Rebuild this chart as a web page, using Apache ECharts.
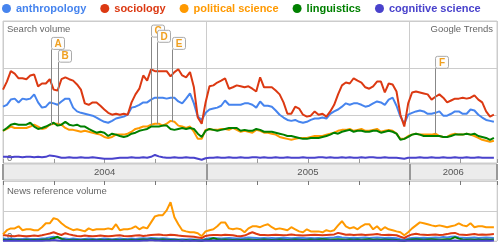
<!DOCTYPE html>
<html><head><meta charset="utf-8">
<script src="https://cdn.jsdelivr.net/npm/echarts@6/dist/echarts.min.js"></script>
<style>html,body{margin:0;padding:0;background:#fff}#c{width:500px;height:249px}</style>
</head><body><div id="c"></div>
<script>
// ---- categories / labels ----
const seriesNames = ['anthropology','sociology','political science','linguistics','cognitive science'];
const colors = ['#4684ee','#dc3912','#ff9900','#008000','#4942cc'];
const yearLabels = ['2004','2005','2006'];
const weekCount = 127; // weekly points from Jan 2004

// ---- search volume (1.0 = gridline) ----
const anthropology = [
1.19,1.23,1.34,1.36,1.28,1.36,1.34,1.36,1.45,1.28,
1.17,1.19,1.28,1.26,1.23,1.30,1.36,1.36,1.17,1.09,
1.06,1.04,1.02,1.00,0.96,0.91,0.87,0.85,0.89,0.94,
0.96,0.98,1.02,1.17,1.19,1.23,1.28,1.28,1.34,1.38,
1.38,1.38,1.36,1.38,1.38,1.30,1.26,1.36,1.47,1.26,
0.98,0.91,1.06,1.13,1.15,1.17,1.21,1.32,1.23,1.23,
1.23,1.23,1.26,1.26,1.23,1.17,1.30,1.21,1.21,1.19,
1.11,1.02,0.96,0.91,0.89,0.91,0.87,0.85,0.87,0.91,
0.94,0.94,0.96,0.94,1.04,1.09,1.13,1.19,1.26,1.23,
1.26,1.26,1.23,1.19,1.21,1.26,1.30,1.28,1.23,1.34,
1.38,1.21,0.98,0.83,1.02,1.06,1.09,1.11,1.09,1.04,
1.04,1.06,1.09,1.00,1.00,1.04,1.09,1.09,1.04,1.04,
1.13,1.11,1.02,0.96,0.91,0.89,0.87];
const sociology = [
1.55,1.72,1.94,1.89,1.79,1.79,1.77,1.85,1.87,1.62,
1.68,1.68,1.77,1.55,1.53,1.77,1.81,1.77,1.74,1.66,
1.55,1.26,1.23,1.28,1.28,1.21,1.13,1.06,1.02,1.04,
1.02,1.04,1.02,1.28,1.45,1.57,1.85,1.74,1.98,1.94,
1.94,1.94,1.94,1.83,1.92,1.98,1.85,1.81,1.92,1.60,
0.96,0.83,1.28,1.62,1.64,1.70,1.74,1.79,1.57,1.60,
1.64,1.62,1.60,1.62,1.57,1.51,1.81,1.60,1.60,1.60,
1.53,1.45,1.28,1.04,1.04,1.19,1.15,1.02,0.98,1.00,
1.09,1.02,1.04,0.98,1.09,1.23,1.45,1.64,1.70,1.68,
1.79,1.74,1.70,1.60,1.57,1.62,1.72,1.72,1.49,1.68,
1.66,1.51,1.02,0.77,1.26,1.49,1.51,1.49,1.47,1.45,
1.34,1.40,1.45,1.38,1.28,1.32,1.36,1.36,1.38,1.36,
1.38,1.43,1.34,1.28,1.09,0.98,1.02];
const politicalScience = [
0.68,0.72,0.77,0.74,0.74,0.74,0.74,0.77,0.81,0.77,
0.72,0.74,0.81,0.83,0.83,0.81,0.74,0.70,0.70,0.68,
0.66,0.68,0.66,0.64,0.62,0.60,0.55,0.53,0.55,0.60,
0.60,0.60,0.62,0.66,0.72,0.74,0.77,0.77,0.81,0.83,
0.83,0.79,0.83,0.89,0.87,0.79,0.77,0.74,0.77,0.66,
0.51,0.51,0.70,0.72,0.70,0.70,0.72,0.72,0.70,0.74,
0.70,0.66,0.68,0.66,0.64,0.70,0.68,0.64,0.64,0.62,
0.60,0.55,0.53,0.51,0.49,0.51,0.53,0.53,0.53,0.55,
0.57,0.57,0.57,0.60,0.62,0.64,0.68,0.70,0.70,0.72,
0.68,0.70,0.72,0.68,0.68,0.70,0.72,0.66,0.68,0.70,
0.68,0.62,0.51,0.51,0.57,0.60,0.62,0.60,0.60,0.60,
0.60,0.62,0.57,0.55,0.55,0.60,0.62,0.60,0.60,0.62,
0.60,0.57,0.53,0.49,0.47,0.45,0.47];
const linguistics = [
0.68,0.74,0.81,0.83,0.81,0.81,0.81,0.85,0.77,0.72,
0.74,0.77,0.81,0.85,0.79,0.81,0.87,0.81,0.79,0.81,
0.77,0.77,0.72,0.68,0.64,0.66,0.64,0.57,0.62,0.60,
0.57,0.55,0.57,0.62,0.64,0.68,0.70,0.72,0.77,0.77,
0.77,0.79,0.79,0.72,0.70,0.72,0.74,0.72,0.74,0.72,
0.62,0.55,0.68,0.72,0.70,0.68,0.70,0.72,0.74,0.74,
0.74,0.68,0.70,0.68,0.68,0.72,0.70,0.66,0.66,0.66,
0.64,0.62,0.60,0.57,0.57,0.55,0.53,0.51,0.51,0.53,
0.53,0.53,0.55,0.57,0.60,0.64,0.62,0.66,0.68,0.70,
0.66,0.68,0.68,0.66,0.66,0.68,0.68,0.64,0.66,0.68,
0.66,0.62,0.49,0.51,0.55,0.60,0.62,0.60,0.57,0.57,
0.57,0.57,0.57,0.55,0.55,0.57,0.60,0.60,0.60,0.62,
0.60,0.62,0.57,0.55,0.53,0.49,0.53];
const cognitiveScience = [
0.13,0.13,0.12,0.13,0.13,0.12,0.13,0.13,0.12,0.13,
0.12,0.13,0.16,0.15,0.13,0.11,0.11,0.12,0.11,0.11,
0.12,0.11,0.11,0.12,0.11,0.10,0.09,0.09,0.09,0.10,
0.11,0.11,0.11,0.12,0.11,0.11,0.12,0.11,0.13,0.17,
0.14,0.12,0.11,0.11,0.12,0.11,0.11,0.12,0.11,0.11,
0.09,0.07,0.10,0.11,0.11,0.12,0.11,0.11,0.12,0.11,
0.11,0.12,0.11,0.11,0.12,0.12,0.11,0.12,0.11,0.11,
0.12,0.11,0.11,0.12,0.11,0.11,0.11,0.12,0.11,0.11,
0.11,0.12,0.12,0.11,0.12,0.11,0.11,0.12,0.11,0.12,
0.11,0.11,0.12,0.11,0.12,0.12,0.11,0.11,0.12,0.11,
0.11,0.11,0.10,0.09,0.11,0.11,0.11,0.12,0.11,0.11,
0.12,0.11,0.11,0.12,0.11,0.11,0.12,0.11,0.11,0.12,
0.11,0.11,0.12,0.11,0.11,0.11,0.11];

// ---- news reference volume ----
const newsAnthropology = [
0.08,0.07,0.08,0.07,0.06,0.07,0.08,0.07,0.06,0.07,
0.08,0.09,0.12,0.14,0.11,0.09,0.08,0.07,0.08,0.07,
0.06,0.07,0.08,0.07,0.06,0.07,0.08,0.07,0.06,0.07,
0.08,0.07,0.07,0.08,0.07,0.08,0.09,0.08,0.10,0.09,
0.08,0.09,0.08,0.07,0.06,0.05,0.06,0.05,0.06,0.05,
0.04,0.03,0.07,0.09,0.10,0.09,0.08,0.09,0.10,0.09,
0.08,0.09,0.10,0.12,0.11,0.10,0.09,0.10,0.09,0.10,
0.09,0.10,0.11,0.10,0.09,0.10,0.11,0.10,0.09,0.10,
0.09,0.10,0.09,0.10,0.11,0.12,0.14,0.12,0.11,0.10,
0.11,0.10,0.11,0.12,0.10,0.11,0.12,0.11,0.10,0.11,
0.10,0.09,0.06,0.04,0.08,0.10,0.11,0.10,0.11,0.10,
0.11,0.12,0.11,0.13,0.12,0.14,0.15,0.12,0.11,0.10,
0.11,0.12,0.10,0.11,0.12,0.11,0.10];
const newsSociology = [
0.20,0.18,0.17,0.16,0.18,0.17,0.16,0.17,0.18,0.17,
0.19,0.22,0.25,0.29,0.24,0.20,0.26,0.22,0.19,0.17,
0.16,0.18,0.17,0.16,0.17,0.18,0.17,0.16,0.17,0.18,
0.19,0.17,0.16,0.17,0.18,0.19,0.17,0.18,0.20,0.21,
0.22,0.20,0.19,0.21,0.20,0.18,0.17,0.16,0.15,0.14,
0.12,0.10,0.17,0.19,0.20,0.20,0.19,0.21,0.20,0.19,
0.17,0.16,0.18,0.24,0.29,0.24,0.20,0.20,0.19,0.20,
0.21,0.20,0.19,0.20,0.22,0.20,0.19,0.18,0.19,0.20,
0.21,0.20,0.19,0.20,0.21,0.22,0.27,0.24,0.21,0.22,
0.20,0.21,0.22,0.20,0.21,0.22,0.23,0.21,0.20,0.21,
0.20,0.19,0.14,0.10,0.17,0.22,0.24,0.22,0.21,0.20,
0.21,0.22,0.20,0.21,0.23,0.26,0.27,0.22,0.21,0.20,
0.22,0.23,0.21,0.22,0.21,0.22,0.23];
const newsPoliticalScience = [
0.22,0.36,0.42,0.42,0.49,0.36,0.39,0.39,0.36,0.36,
0.46,0.59,0.59,0.76,0.72,0.59,0.49,0.42,0.36,0.39,
0.36,0.32,0.42,0.36,0.39,0.39,0.39,0.42,0.39,0.56,
0.36,0.39,0.39,0.42,0.49,0.39,0.46,0.42,0.62,0.82,
0.86,0.86,1.02,1.29,0.79,0.56,0.36,0.32,0.29,0.29,
0.26,0.16,0.32,0.36,0.39,0.49,0.62,0.62,0.42,0.39,
0.42,0.39,0.29,0.42,0.49,0.49,0.46,0.52,0.56,0.46,
0.39,0.42,0.39,0.36,0.46,0.39,0.32,0.29,0.39,0.32,
0.32,0.32,0.29,0.36,0.32,0.36,0.52,0.66,0.49,0.42,
0.46,0.39,0.49,0.56,0.56,0.39,0.49,0.36,0.46,0.39,
0.36,0.32,0.29,0.19,0.29,0.42,0.52,0.62,0.59,0.56,
0.52,0.49,0.52,0.49,0.46,0.49,0.52,0.59,0.52,0.49,
0.59,0.46,0.49,0.49,0.46,0.46,0.46];
const newsLinguistics = [
0.04,0.03,0.04,0.03,0.04,0.03,0.04,0.03,0.04,0.03,
0.04,0.05,0.06,0.09,0.14,0.07,0.04,0.03,0.04,0.03,
0.03,0.04,0.03,0.04,0.03,0.04,0.03,0.04,0.03,0.04,
0.03,0.04,0.03,0.04,0.03,0.04,0.05,0.04,0.06,0.05,
0.04,0.05,0.04,0.03,0.04,0.03,0.02,0.03,0.02,0.03,
0.02,0.01,0.04,0.05,0.09,0.06,0.04,0.05,0.04,0.03,
0.04,0.03,0.04,0.05,0.04,0.03,0.04,0.05,0.04,0.03,
0.04,0.05,0.04,0.03,0.04,0.05,0.04,0.03,0.04,0.05,
0.04,0.05,0.06,0.05,0.04,0.05,0.06,0.05,0.04,0.05,
0.04,0.05,0.04,0.05,0.06,0.04,0.05,0.04,0.05,0.04,
0.04,0.03,0.02,0.01,0.04,0.05,0.06,0.05,0.04,0.05,
0.06,0.05,0.04,0.05,0.06,0.07,0.13,0.08,0.05,0.04,
0.05,0.04,0.05,0.04,0.05,0.04,0.05];
const newsCognitiveScience = [
0.01,0.02,0.01,0.02,0.01,0.02,0.01,0.02,0.01,0.02,
0.01,0.02,0.02,0.03,0.02,0.01,0.02,0.01,0.02,0.01,
0.02,0.01,0.02,0.01,0.02,0.01,0.02,0.01,0.02,0.01,
0.02,0.01,0.02,0.01,0.02,0.01,0.02,0.02,0.03,0.02,
0.02,0.01,0.02,0.01,0.02,0.01,0.02,0.01,0.02,0.01,
0.01,0.01,0.02,0.01,0.02,0.01,0.02,0.01,0.02,0.01,
0.02,0.01,0.02,0.01,0.02,0.01,0.02,0.01,0.02,0.01,
0.02,0.01,0.02,0.01,0.02,0.01,0.02,0.01,0.02,0.01,
0.02,0.01,0.02,0.01,0.02,0.01,0.02,0.01,0.02,0.01,
0.02,0.01,0.02,0.01,0.02,0.01,0.02,0.01,0.02,0.01,
0.02,0.01,0.01,0.01,0.02,0.01,0.02,0.01,0.02,0.01,
0.02,0.01,0.02,0.01,0.02,0.01,0.02,0.01,0.02,0.01,
0.02,0.01,0.02,0.01,0.02,0.01,0.02];

// ---- annotations (flags on political science) ----
const annLetters = ['A','B','C','D','E','F'];
const annWeeks   = [12.2, 14.0, 38.1, 39.4, 43.5, 111];
const annLevels  = [2.40, 2.13, 2.66, 2.55, 2.40, 2.00];

// ---- build ----
const xMin = 2004, xMax = 2006.43;
const weekX = i => 2004 + i * 7 / 365.25;
const pairs = arr => arr.map((v, i) => [weekX(i), v]);
const topData = [anthropology, sociology, politicalScience, linguistics, cognitiveScience];
const newsData = [newsAnthropology, newsSociology, newsPoliticalScience, newsLinguistics, newsCognitiveScience];
const FONT = 'Liberation Sans, Arial, sans-serif';

const series = [];
topData.forEach((d, k) => series.push({
  name: seriesNames[k], type: 'line', xAxisIndex: 0, yAxisIndex: 0, data: pairs(d),
  showSymbol: false, symbol: 'none', lineStyle: { width: 2, color: colors[k] }, itemStyle: { color: colors[k] }, z: 3, animation: false
}));
newsData.forEach((d, k) => series.push({
  name: seriesNames[k], type: 'line', xAxisIndex: 2, yAxisIndex: 1, data: pairs(d),
  showSymbol: false, symbol: 'none', lineStyle: { width: 2, color: colors[k] }, itemStyle: { color: colors[k] }, z: 3, animation: false
}));
series.push({
  type: 'custom', xAxisIndex: 0, yAxisIndex: 0, z: 10, clip: false, animation: false,
  data: annWeeks.map((w, k) => [weekX(w), annLevels[k], politicalScience[Math.round(w)], k]),
  renderItem: function (params, api) {
    const p = api.coord([api.value(0), api.value(1)]);
    const b = api.coord([api.value(0), api.value(2)]);
    const x = Math.round(p[0]) + 0.5;
    return { type: 'group', children: [
      { type: 'line', shape: { x1: x, y1: p[1], x2: x, y2: b[1] }, style: { stroke: '#888', lineWidth: 1 } },
      { type: 'rect', shape: { x: x, y: p[1] - 12, width: 13, height: 12, r: 2 }, style: { fill: '#fdfdfd', stroke: '#aaa', lineWidth: 1 } },
      { type: 'text', style: { text: annLetters[api.value(3)], x: x + 6.5, y: p[1] - 5.5, align: 'center', verticalAlign: 'middle', fill: '#f0a020', font: 'bold 10px ' + FONT } }
    ] };
  }
});

const chart = echarts.init(document.getElementById('c'), null, { renderer: 'canvas' });
chart.setOption({
  animation: false,
  backgroundColor: '#fff',
  textStyle: { fontFamily: FONT },
  title: [
    { text: 'Search volume', left: 7, top: 24, padding: 0, textStyle: { fontSize: 9.5, fontWeight: 'normal', color: '#666', fontFamily: FONT } },
    { text: 'Google Trends', right: 7, top: 24, padding: 0, textStyle: { fontSize: 9.5, fontWeight: 'normal', color: '#666', fontFamily: FONT } },
    { text: 'News reference volume', left: 7, top: 186, padding: 0, textStyle: { fontSize: 9.5, fontWeight: 'normal', color: '#666', fontFamily: FONT } }
  ],
  legend: {
    left: 2, top: 3, padding: 0, itemGap: 14, itemWidth: 9, itemHeight: 9, icon: 'circle',
    data: seriesNames.map((n, k) => ({ name: n, textStyle: { color: colors[k] } })),
    textStyle: { fontSize: 11, fontWeight: 'bold', fontFamily: FONT }
  },
  grid: [
    { left: 3, right: 3, top: 21, height: 142, show: true, borderColor: '#ccc', borderWidth: 1, backgroundColor: 'transparent' },
    { left: 3, right: 3, top: 181, height: 60, show: true, borderColor: '#ddd', borderWidth: 1, backgroundColor: 'transparent' },
    { left: 3, right: 3, top: 164, height: 16, show: true, borderColor: '#c8c8c8', borderWidth: 1, backgroundColor: '#ececec' }
  ],
  xAxis: [
    { gridIndex: 0, type: 'value', min: xMin, max: xMax, interval: 0.25, position: 'bottom',
      axisLine: { show: false, onZero: false }, axisLabel: { show: false }, splitLine: { show: false },
      axisTick: { show: true, inside: true, length: 4, lineStyle: { color: '#999' } } },
    { gridIndex: 0, type: 'value', min: xMin, max: xMax, interval: 1, position: 'top',
      axisLine: { show: false, onZero: false }, axisLabel: { show: false }, axisTick: { show: false },
      splitLine: { show: true, lineStyle: { color: '#ccc', width: 1 } } },
    { gridIndex: 1, type: 'value', min: xMin, max: xMax, interval: 0.25, position: 'top',
      axisLine: { show: false, onZero: false }, axisLabel: { show: false }, splitLine: { show: false },
      axisTick: { show: true, inside: true, length: 4, lineStyle: { color: '#777' } } },
    { gridIndex: 1, type: 'value', min: xMin, max: xMax, interval: 1, position: 'bottom',
      axisLine: { show: false, onZero: false }, axisLabel: { show: false }, axisTick: { show: false },
      splitLine: { show: true, lineStyle: { color: '#ccc', width: 1 } } },
    { gridIndex: 2, type: 'value', min: xMin, max: xMax, interval: 1, position: 'bottom',
      axisLine: { show: false, onZero: false }, axisTick: { show: false },
      splitLine: { show: true, lineStyle: { color: '#999', width: 2 } },
      axisLabel: { show: true, inside: true, margin: 3, fontSize: 9.5, color: '#555', fontFamily: FONT,
        customValues: [2004.5, 2005.5, (2006 + xMax) / 2],
        formatter: v => yearLabels[Math.floor(v) - 2004] } }
  ],
  yAxis: [
    { gridIndex: 0, type: 'value', min: 0, max: 3, interval: 1,
      axisLine: { show: false }, axisTick: { show: false },
      splitLine: { show: true, lineStyle: { color: '#ccc', width: 1 } },
      axisLabel: { inside: true, margin: 4, fontSize: 9.5, color: '#666', verticalAlign: 'bottom', formatter: v => v === 0 ? '0' : '' } },
    { gridIndex: 1, type: 'value', min: 0, max: 2, interval: 1,
      axisLine: { show: false }, axisTick: { show: false },
      splitLine: { show: true, lineStyle: { color: '#ccc', width: 1 } },
      axisLabel: { inside: true, margin: 4, fontSize: 9.5, color: '#666', verticalAlign: 'bottom', formatter: v => v === 0 ? '0' : '' } },
    { gridIndex: 2, type: 'value', min: 0, max: 1, show: false }
  ],
  series: series
});
</script>
</body></html>
